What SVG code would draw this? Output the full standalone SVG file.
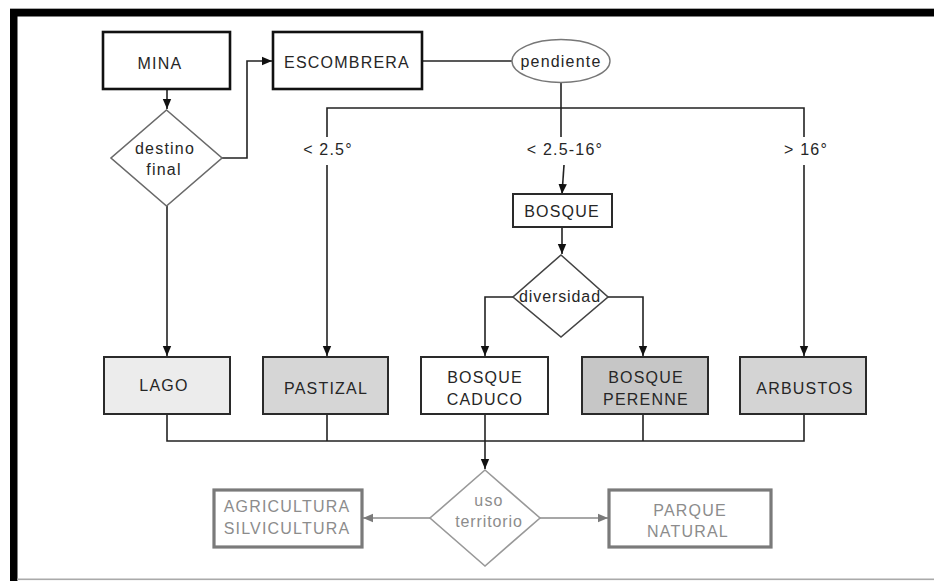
<svg xmlns="http://www.w3.org/2000/svg" width="934" height="581" viewBox="0 0 934 581">
<defs>
<style>
text{font-family:"Liberation Sans",Arial,sans-serif;font-size:16px;letter-spacing:1.2px;fill:#262626;text-anchor:middle}
.g text,text.g{fill:#8c8c8c}
.box{fill:#fff;stroke:#2a2a2a;stroke-width:2}
.main{fill:#fff;stroke:#111;stroke-width:2.6}
.gbox{fill:#fff;stroke:#7a7a7a;stroke-width:3.2}
.dia{fill:#fff;stroke:#6a6a6a;stroke-width:1.6}
.gdia{fill:#fff;stroke:#999;stroke-width:1.6}
.c{fill:none;stroke:#222;stroke-width:1.6}
.ca{fill:none;stroke:#222;stroke-width:1.6;marker-end:url(#ah)}
.cg{fill:none;stroke:#8a8a8a;stroke-width:1.4;marker-end:url(#ahg)}
</style>
<marker id="ah" markerUnits="userSpaceOnUse" markerWidth="10" markerHeight="10" viewBox="0 0 10 10" refX="10" refY="5" orient="auto"><path d="M0,0.8 L10,5 L0,9.2 Z" fill="#111"/></marker>
<marker id="ahg" markerUnits="userSpaceOnUse" markerWidth="10" markerHeight="10" viewBox="0 0 10 10" refX="10" refY="5" orient="auto"><path d="M0,0.8 L10,5 L0,9.2 Z" fill="#7a7a7a"/></marker>
</defs>
<rect x="0" y="0" width="934" height="581" fill="#fff"/>
<rect x="10" y="8" width="924" height="1" fill="#aaa"/>
<rect x="10" y="9" width="924" height="7.5" fill="#000"/>
<rect x="10" y="9" width="7.5" height="572" fill="#000"/>
<rect x="17" y="578.5" width="917" height="1.6" fill="#aaa"/>

<g id="connectors">
<path class="ca" d="M167,89 V109"/>
<path class="ca" d="M222,158 H247 V61 H272"/>
<path class="c" d="M422,61 H512"/>
<path class="c" d="M561,82 V137"/>
<path class="c" d="M327,137 V108 H804 V137"/>
<path class="ca" d="M327,165 V356"/>
<path class="ca" d="M804,165 V356"/>
<path class="ca" d="M564,165 L562,194"/>
<path class="ca" d="M562,227 V254"/>
<path class="ca" d="M513,297 H485 V356"/>
<path class="ca" d="M608,297 H643 V356"/>
<path class="ca" d="M167,206 V356"/>
<path class="c" d="M167,414 V441 H804 V414 M327,414 V441 M643,414 V441"/>
<path class="ca" d="M485,414 V469"/>
<path class="cg" d="M430,518 H363"/>
<path class="cg" d="M540,518 H608"/>
<text x="328" y="155">&lt; 2.5°</text>
<text x="565" y="155">&lt; 2.5-16°</text>
<text x="806" y="155">&gt; 16°</text>
</g>

<g id="mina"><rect class="main" x="103" y="32" width="127" height="57"/><text x="160" y="69">MINA</text></g>
<g id="escombrera"><rect class="main" x="273" y="32" width="149" height="57"/><text x="347" y="68">ESCOMBRERA</text></g>
<g id="pendiente"><ellipse cx="561" cy="61" rx="49" ry="21.5" fill="#fff" stroke="#777" stroke-width="1.4"/><text x="561" y="67">pendiente</text></g>
<g id="destino"><polygon class="dia" points="166.5,110 222,158 166.5,206 111,158"/><text x="165" y="154">destino</text><text x="164" y="175">final</text></g>
<g id="bosque"><rect class="box" x="513" y="194" width="99" height="33"/><text x="562" y="217">BOSQUE</text></g>
<g id="diversidad"><polygon class="dia" style="stroke:#444" points="561,255 608,297 561,337 513,297"/><text x="560" y="302" style="letter-spacing:0.9px">diversidad</text></g>
<g id="lago"><rect class="box" style="fill:#ececec" x="104" y="357" width="126" height="57"/><text x="164" y="391">LAGO</text></g>
<g id="pastizal"><rect class="box" style="fill:#d6d6d6" x="263" y="357" width="125" height="57"/><text x="326" y="394">PASTIZAL</text></g>
<g id="bosque-caduco"><rect class="box" x="421" y="357" width="127" height="57"/><text x="485" y="383">BOSQUE</text><text x="485" y="405">CADUCO</text></g>
<g id="bosque-perenne"><rect class="box" style="fill:#c6c6c6" x="582" y="357" width="126" height="57"/><text x="646" y="383">BOSQUE</text><text x="646" y="405">PERENNE</text></g>
<g id="arbustos"><rect class="box" style="fill:#d4d4d4" x="740" y="357" width="126" height="57"/><text x="805" y="394">ARBUSTOS</text></g>
<g id="uso-territorio" class="g"><polygon class="gdia" points="485,470 540,518 485,566 430,518"/><text x="489" y="506">uso</text><text x="489" y="527" style="letter-spacing:0.9px">territorio</text></g>
<g id="agricultura" class="g"><rect class="gbox" x="214" y="490" width="148" height="57"/><text x="287" y="512">AGRICULTURA</text><text x="287" y="534">SILVICULTURA</text></g>
<g id="parque" class="g"><rect class="gbox" x="609" y="490" width="162" height="57"/><text x="690" y="516">PARQUE</text><text x="688" y="537">NATURAL</text></g>
</svg>
